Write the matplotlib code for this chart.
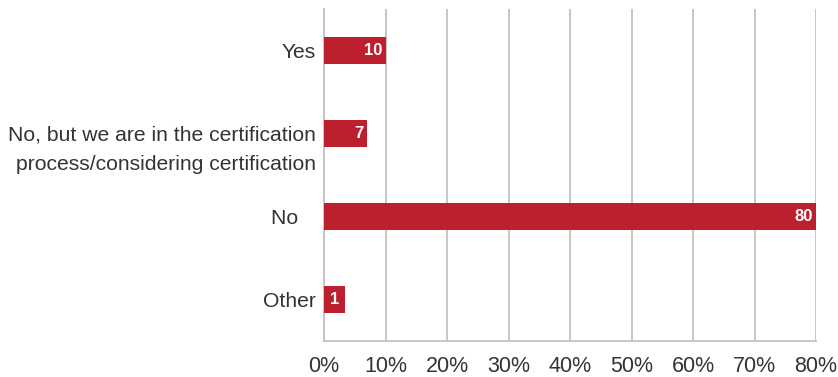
import matplotlib
matplotlib.use("Agg")
import matplotlib.pyplot as plt
from matplotlib.transforms import blended_transform_factory

plt.rcParams['font.family'] = ['Liberation Sans', 'DejaVu Sans']

categories = ["Yes", "No, but we are in the certification\nprocess/considering certification", "No   ", "Other"]
values = [10, 7, 80, 1]
xticks = [0, 10, 20, 30, 40, 50, 60, 70, 80]
xtick_labels = ["0%", "10%", "20%", "30%", "40%", "50%", "60%", "70%", "80%"]

bar_color = "#BC1F2E"
grid_color = "#C9C1B9"
text_color = "#333333"
label_size = 15.2

fig = plt.figure(figsize=(8.38, 3.77), dpi=100)
ax = fig.add_axes([324 / 838, 36 / 377, (816 - 324) / 838, (341 - 9) / 377])

ypos = list(range(len(categories)))
ax.barh(ypos, values, height=0.315, color=bar_color, zorder=3)

ax.set_xlim(0, 80)
ax.set_ylim(3.5, -0.5)
ax.set_xticks(xticks)
ax.set_xticklabels(xtick_labels, fontsize=15.5, color=text_color)
ax.tick_params(axis='x', length=0, pad=10.5)
ax.tick_params(axis='y', length=0, pad=6)
ax.xaxis.grid(True, color=grid_color, linewidth=1.3, zorder=0)

for s in ["top", "right"]:
    ax.spines[s].set_visible(False)
for s in ["left", "bottom"]:
    ax.spines[s].set_color(grid_color)
    ax.spines[s].set_linewidth(1.3)

# y category labels; the two-line label hangs from its bar
ax.set_yticks(ypos)
ax.set_yticklabels([c if "\n" not in c else "" for c in categories], fontsize=label_size, color=text_color)
trans = blended_transform_factory(ax.transAxes, ax.transData)
for y, c in zip(ypos, categories):
    if "\n" in c:
        ax.annotate(c, xy=(0, y), xycoords=trans, xytext=(-6, 5.5), textcoords="offset points",
                    ha="right", va="top", fontsize=label_size, color=text_color, linespacing=1.65)

# value labels at the bar ends
for y, v in zip(ypos, values):
    if v >= 3:
        ax.annotate(str(v), xy=(v, y), xytext=(-2.5, 0), textcoords="offset points",
                    ha="right", va="center", fontsize=12, color="white", fontweight="bold", zorder=4)
    else:
        ax.annotate(str(v), xy=(0, y), xytext=(4.3, 0), textcoords="offset points",
                    ha="left", va="center", fontsize=12, color="white", fontweight="bold", zorder=4,
                    bbox=dict(boxstyle="square,pad=0.36", fc=bar_color, ec="none"))

fig.savefig("out.png", dpi=100, facecolor="white")
